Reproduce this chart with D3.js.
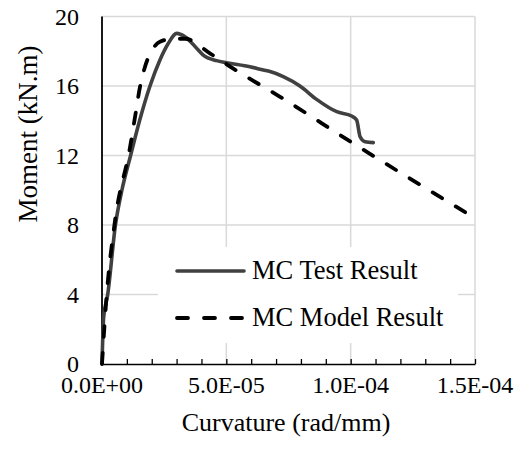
<!DOCTYPE html>
<html>
<head>
<meta charset="utf-8">
<script src="https://cdn.jsdelivr.net/npm/d3@7/dist/d3.min.js"></script>
<style>
  body { margin: 0; background: #fff; }
  text { font-family: "Liberation Serif", "Times New Roman", serif; fill: #000; }
</style>
</head>
<body>
<div id="chart"></div>
<script>
// ---------------------------//
//        DATA                //
// ---------------------------//

// MC test result
const testCurvature = [0, 6.7e-7, 2.3e-6, 5.4e-6, 8.0e-6, 1.15e-5, 1.51e-5, 1.93e-5, 2.33e-5, 2.67e-5,
    3.0e-5, 3.34e-5, 3.87e-5, 4.07e-5, 4.61e-5, 5.01e-5, 5.95e-5, 6.49e-5, 6.76e-5, 7.29e-5,
    7.96e-5, 8.63e-5, 9.44e-5, 1.004e-4, 1.024e-4, 1.038e-4, 1.058e-4, 1.091e-4];
const testMoment = [0, 2.7, 4.0, 8.0, 10.0, 12.0, 14.0, 16.0, 17.5, 18.46,
    19.03, 18.84, 18.07, 17.78, 17.46, 17.34, 17.11, 16.92, 16.83, 16.54,
    16.0, 15.23, 14.52, 14.27, 14.04, 13.08, 12.79, 12.74];

// MC model result
const modelCurvature = [0, 1.9e-6, 5.0e-6, 1.13e-5, 1.33e-5, 1.53e-5, 1.73e-5, 2.06e-5, 2.33e-5,
    2.87e-5, 3.34e-5, 4.34e-5, 5.28e-5, 7.16e-5, 1.01e-4, 1.5e-4];
const modelMoment = [0, 4.0, 8.0, 12.5, 14.23, 15.96, 17.11, 18.17, 18.55,
    18.72, 18.72, 17.88, 17.0, 15.38, 12.70, 8.39];

const seriesNames = ["MC Test Result", "MC Model Result"];
const xTicks = [0, 5e-5, 1e-4, 1.5e-4];
const xTickLabels = ["0.0E+00", "5.0E-05", "1.0E-04", "1.5E-04"];
const yTicks = [0, 4, 8, 12, 16, 20];

// ---------------------------//
//       SET  CANVAS          //
// ---------------------------//
const W = 520, H = 450;
const plot = {left: 102, right: 475, top: 16.5, bottom: 364};

const svg = d3.select("#chart")
    .append("svg")
    .attr("width", W)
    .attr("height", H);

const x = d3.scaleLinear()
    .domain([0, 1.5e-4])
    .range([plot.left, plot.right]);

const y = d3.scaleLinear()
    .domain([0, 20])
    .range([plot.bottom, plot.top]);

// ---------------------------//
//       GRID  AND AXES       //
// ---------------------------//
const gridColor = "#d9d9d9";

svg.append("g")
    .selectAll("line")
    .data(yTicks.slice(1))
    .enter().append("line")
    .attr("x1", plot.left).attr("x2", plot.right)
    .attr("y1", d => y(d)).attr("y2", d => y(d))
    .attr("stroke", gridColor)
    .attr("stroke-width", 1.5);

svg.append("g")
    .selectAll("line")
    .data(xTicks.slice(1))
    .enter().append("line")
    .attr("x1", d => x(d)).attr("x2", d => x(d))
    .attr("y1", plot.top).attr("y2", plot.bottom)
    .attr("stroke", gridColor)
    .attr("stroke-width", 1.5);

// bottom axis with small inward ticks
const xAxis = svg.append("g")
    .attr("transform", `translate(0,${plot.bottom})`)
    .call(d3.axisBottom(x).ticks(15).tickSizeInner(-5).tickSizeOuter(0).tickFormat(""));
xAxis.select(".domain").attr("stroke", "#000").attr("stroke-width", 1.5);
xAxis.selectAll(".tick line").attr("stroke", "#000").attr("stroke-width", 1.3);

// left axis line
svg.append("line")
    .attr("x1", plot.left).attr("x2", plot.left)
    .attr("y1", plot.top).attr("y2", plot.bottom)
    .attr("stroke", "#000")
    .attr("stroke-width", 1.8);

// tick labels
svg.append("g")
    .selectAll("text")
    .data(xTicks)
    .enter().append("text")
    .attr("x", d => x(d))
    .attr("y", 393)
    .attr("text-anchor", "middle")
    .style("font-size", "24px")
    .text((d, i) => xTickLabels[i]);

svg.append("g")
    .selectAll("text")
    .data(yTicks)
    .enter().append("text")
    .attr("x", 79)
    .attr("y", d => y(d) + 8)
    .attr("text-anchor", "end")
    .style("font-size", "24px")
    .text(d => d);

// axis titles
svg.append("text")
    .attr("x", 286)
    .attr("y", 431)
    .attr("text-anchor", "middle")
    .style("font-size", "26px")
    .text("Curvature (rad/mm)");

svg.append("text")
    .attr("transform", "translate(37,134) rotate(-90)")
    .attr("text-anchor", "middle")
    .style("font-size", "27px")
    .text("Moment (kN.m)");

// ---------------------------//
//       LINES                //
// ---------------------------//
const line = d3.line()
    .x(d => x(d[0]))
    .y(d => y(d[1]))
    .curve(d3.curveMonotoneX);

const testData = testCurvature.map((c, i) => [c, testMoment[i]]);
const modelData = modelCurvature.map((c, i) => [c, modelMoment[i]]);

const testStyle = {stroke: "#404040", dash: null, cap: "round", width: 3.6};
const modelStyle = {stroke: "#000", dash: "11,16", cap: "round", width: 3.8};

// legend background (drawn before the lines so the curves stay on top)
const legend = {x: 158, y: 247, w: 300, h: 96};
svg.append("rect")
    .attr("x", legend.x).attr("y", legend.y)
    .attr("width", legend.w).attr("height", legend.h)
    .attr("fill", "#fff");

svg.append("path")
    .datum(testData)
    .attr("d", line)
    .attr("fill", "none")
    .attr("stroke", testStyle.stroke)
    .attr("stroke-width", testStyle.width)
    .attr("stroke-linejoin", "round")
    .attr("stroke-linecap", testStyle.cap);

svg.append("path")
    .datum(modelData)
    .attr("d", line)
    .attr("fill", "none")
    .attr("stroke", modelStyle.stroke)
    .attr("stroke-width", modelStyle.width)
    .attr("stroke-dasharray", modelStyle.dash)
    .attr("stroke-linecap", modelStyle.cap);

// ---------------------------//
//       LEGEND               //
// ---------------------------//
const legendRows = [271, 318];
[testStyle, modelStyle].forEach((s, i) => {
    svg.append("line")
        .attr("x1", 177).attr("x2", 244)
        .attr("y1", legendRows[i]).attr("y2", legendRows[i])
        .attr("stroke", s.stroke)
        .attr("stroke-width", s.width)
        .attr("stroke-dasharray", s.dash)
        .attr("stroke-linecap", s.cap);
    svg.append("text")
        .attr("x", 252)
        .attr("y", legendRows[i] + 8)
        .style("font-size", "26.5px")
        .text(seriesNames[i]);
});
</script>
</body>
</html>
